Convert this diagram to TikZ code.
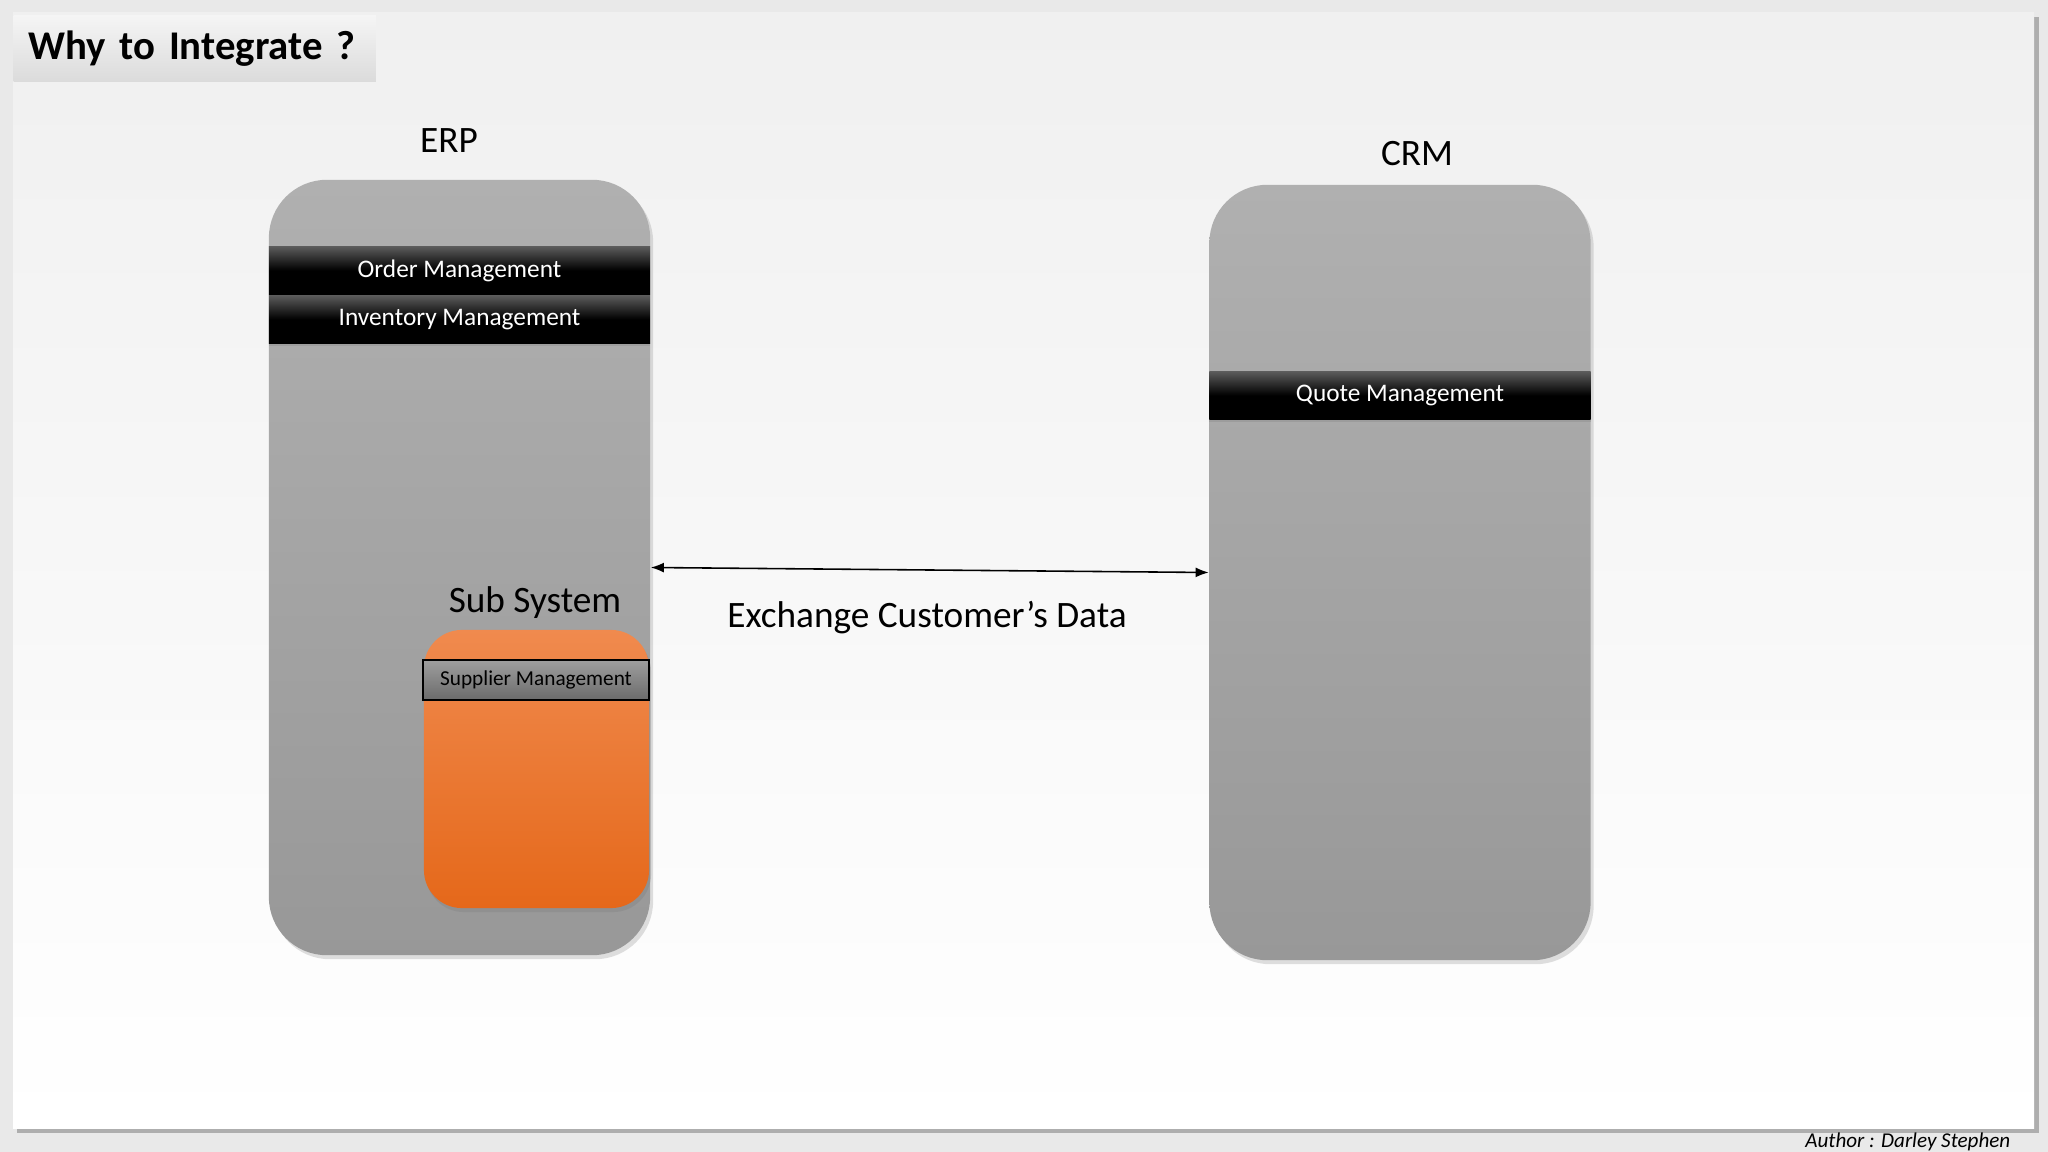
\documentclass[tikz,border=0pt]{standalone}
\usepackage{fontspec}
\setmainfont{Carlito}
\usepackage{tikz}
\usetikzlibrary{arrows.meta, shadows}
\definecolor{slidebg}{HTML}{F0F0F0}
\definecolor{outerbg}{HTML}{E9E9E9}
\definecolor{boxtop}{HTML}{B0B0B0}
\definecolor{boxbot}{HTML}{989898}
\definecolor{orangetop}{HTML}{F08A4E}
\definecolor{orangemid}{HTML}{F67A22}
\definecolor{orangebot}{HTML}{E5681A}
\tikzset{
    sysbox/.style={rectangle, rounded corners=0.58cm, top color=boxtop, bottom color=boxbot, minimum width=3.81cm, minimum height=7.75cm, drop shadow={opacity=0.25, shadow xshift=0.03cm, shadow yshift=-0.04cm}},
    modbar/.style={rectangle, top color=black!65, bottom color=black, middle color=black, text=white, minimum width=3.81cm, minimum height=0.47cm, inner sep=0pt, font=\fontsize{7.2}{8}\selectfont, drop shadow={opacity=0.3, shadow xshift=0cm, shadow yshift=-0.03cm}},
    subbox/.style={rectangle, rounded corners=0.38cm, top color=orangetop, middle color=orangemid, bottom color=orangebot, minimum width=2.25cm, minimum height=2.78cm, drop shadow={opacity=0.35, shadow xshift=0.02cm, shadow yshift=-0.04cm}},
    subbar/.style={rectangle, draw=black, thin, top color=black!38, bottom color=black!58, minimum width=2.26cm, minimum height=0.40cm, inner sep=0pt, font=\fontsize{6.05}{7}\selectfont},
    syslabel/.style={font=\fontsize{10.6}{12}\selectfont, inner sep=0pt},
    titlebox/.style={rectangle, top color=white!96!black, bottom color=white!86!black, text width=3.32cm, inner xsep=0.15cm, minimum height=0.65cm, align=left, font=\bfseries\fontsize{11.6}{14}\selectfont},
    arrow/.style={{Latex[length=0.13cm,width=0.1cm]}-{Latex[length=0.13cm,width=0.1cm]}, line width=0.45pt}
}

\begin{document}
\begin{tikzpicture}[x=0.01cm, y=-0.01cm]
    % Slide
    \fill[outerbg] (0,0) rectangle (2048,1152);
    \fill[black, opacity=0.25] (17,17) rectangle (2039,1133);
    \shade[top color=slidebg, bottom color=white] (13,13) rectangle (2034,1128);
    \node[titlebox, anchor=west] (title) at (13,48.5) {Why to Integrate ?};

    % ERP
    \node[sysbox] (erp) at (459.5,567.5) {};
    \node[syslabel] (erplabel) at (449,141) {ERP};
    \node[modbar] (order) at (459.5,270.5) {Order Management};
    \node[modbar] (inventory) at (459.5,319.5) {Inventory Management};

    % Sub system
    \node[syslabel] (sublabel) at (535,603) {Sub System};
    \node[subbox] (sub) at (536.5,769) {};
    \node[subbar] (supplier) at (536,680) {Supplier Management};

    % CRM
    \node[sysbox] (crm) at (1400,572.5) {};
    \node[syslabel] (crmlabel) at (1417,154) {CRM};
    \node[modbar] (quote) at (1400,395.5) {Quote Management};

    % Exchange
    \draw[arrow] (erp.east) -- (crm.west);
    \node[syslabel] (exchange) at (927,618) {Exchange Customer’s Data};

    \node[anchor=east, font=\itshape\fontsize{6}{7}\selectfont, inner sep=0pt] (author) at (2011,1142) {Author : Darley Stephen};
\end{tikzpicture}
\end{document}
